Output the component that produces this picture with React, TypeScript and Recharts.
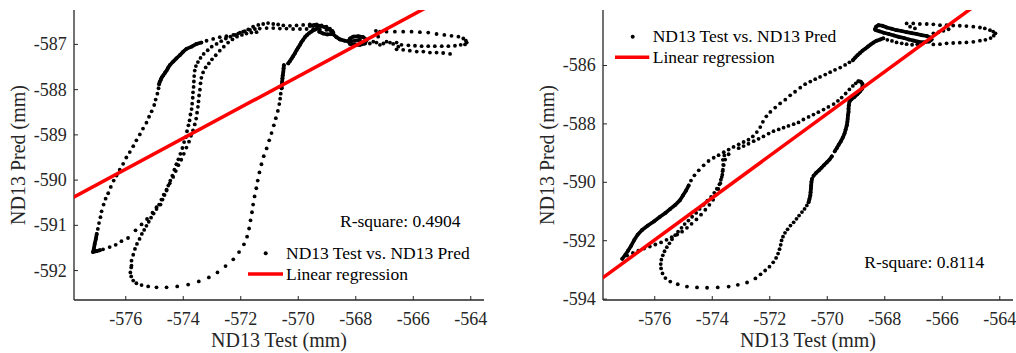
import React from 'react';
import { ScatterChart, Scatter, XAxis, YAxis } from 'recharts';

const FONT = '"Liberation Serif", "Times New Roman", Times, serif';
const AX = '#262626';

// ---------- axes ----------
const xTicks = [-576, -574, -572, -570, -568, -566, -564];
const xDomain = [-577.8, -563.54];
const leftYTicks = [-592, -591, -590, -589, -588, -587];
const leftYDomain = [-592.65, -586.24];
const rightYTicks = [-594, -592, -590, -588, -586];
const rightYDomain = [-594.03, -584.1];

// ---------- left panel: [ND13 Test, ND13 Pred] ----------
const leftTipLine = [[-577.01,-591.19],[-577.04,-591.30],[-577.08,-591.41],[-577.11,-591.52],[-577.14,-591.59],[-577.02,-591.57],[-576.90,-591.55]];
const leftOuterRise = [[-576.97,-591.08],[-576.93,-590.95],[-576.88,-590.82],[-576.84,-590.69],[-576.77,-590.54],[-576.70,-590.41],[-576.61,-590.29],[-576.52,-590.15],[-576.42,-590.01],[-576.32,-589.90],[-576.21,-589.77],[-576.09,-589.64],[-575.98,-589.50],[-575.86,-589.38],[-575.74,-589.25],[-575.63,-589.12],[-575.51,-588.99],[-575.40,-588.86],[-575.28,-588.73],[-575.19,-588.60],[-575.10,-588.48],[-575.01,-588.34],[-574.96,-588.22],[-574.90,-588.09],[-574.86,-587.97]];
const leftUpperBend = [[-574.84,-587.88],[-574.82,-587.83],[-574.78,-587.78],[-574.75,-587.73],[-574.70,-587.69],[-574.64,-587.63],[-574.58,-587.58],[-574.53,-587.52],[-574.47,-587.46],[-574.35,-587.38],[-574.24,-587.31],[-574.12,-587.24],[-574.00,-587.16],[-573.89,-587.10],[-573.71,-587.05],[-573.54,-586.99],[-573.37,-586.96]];
const leftUpperCrest = [[-573.19,-586.92],[-572.96,-586.88],[-572.73,-586.84],[-572.50,-586.82],[-572.26,-586.79],[-572.09,-586.76],[-571.92,-586.72],[-571.74,-586.67],[-571.57,-586.61],[-571.39,-586.57],[-571.22,-586.55],[-571.05,-586.53],[-570.87,-586.55],[-570.70,-586.56],[-570.52,-586.58],[-570.29,-586.59],[-570.06,-586.58],[-569.83,-586.57],[-569.60,-586.56],[-569.36,-586.56],[-569.19,-586.58],[-569.02,-586.61],[-568.90,-586.65],[-568.81,-586.70],[-568.78,-586.74]];
const leftReturnBranch = [[-576.79,-591.53],[-576.56,-591.48],[-576.35,-591.43],[-576.15,-591.35],[-575.92,-591.28],[-575.66,-591.11],[-575.45,-590.98],[-575.26,-590.86],[-575.07,-590.72],[-574.93,-590.60]];
const leftInnerRiseA = [[-574.79,-590.54],[-574.72,-590.43],[-574.65,-590.33],[-574.58,-590.23],[-574.52,-590.12],[-574.45,-590.01],[-574.38,-589.90],[-574.31,-589.77],[-574.24,-589.65],[-574.17,-589.54],[-574.10,-589.42],[-574.03,-589.29],[-573.97,-589.16],[-573.91,-589.05],[-573.87,-588.92],[-573.82,-588.79],[-573.78,-588.68],[-573.75,-588.55],[-573.71,-588.43],[-573.69,-588.31],[-573.67,-588.18],[-573.66,-588.06],[-573.64,-587.94],[-573.63,-587.82],[-573.62,-587.70],[-573.60,-587.58],[-573.56,-587.48],[-573.49,-587.39],[-573.40,-587.30],[-573.29,-587.21],[-573.15,-587.13],[-573.01,-587.05],[-572.84,-586.99],[-572.68,-586.93],[-572.52,-586.87],[-572.36,-586.83],[-572.19,-586.79],[-572.03,-586.74],[-571.86,-586.71],[-571.68,-586.68],[-571.51,-586.66],[-571.34,-586.65],[-571.10,-586.64],[-570.87,-586.64],[-570.64,-586.65],[-570.41,-586.65],[-570.18,-586.66],[-569.94,-586.66],[-569.71,-586.66],[-569.48,-586.66],[-569.25,-586.67],[-569.02,-586.68],[-568.84,-586.73]];
const leftInnerRiseB = [[-575.80,-591.89],[-575.80,-591.78],[-575.74,-591.65],[-575.68,-591.52],[-575.61,-591.41],[-575.52,-591.30],[-575.44,-591.19],[-575.36,-591.10],[-575.28,-591.01],[-575.20,-590.92],[-575.12,-590.83],[-575.03,-590.74],[-574.93,-590.64],[-574.84,-590.54],[-574.76,-590.43],[-574.68,-590.32],[-574.58,-590.21],[-574.47,-590.07],[-574.35,-589.93],[-574.26,-589.80],[-574.17,-589.67],[-574.07,-589.55],[-573.98,-589.42],[-573.89,-589.28],[-573.80,-589.15],[-573.73,-589.02],[-573.66,-588.90],[-573.60,-588.77],[-573.55,-588.64],[-573.52,-588.51],[-573.49,-588.38],[-573.47,-588.26],[-573.45,-588.13],[-573.42,-588.00],[-573.40,-587.86],[-573.37,-587.74],[-573.31,-587.62],[-573.22,-587.51],[-573.11,-587.42],[-573.00,-587.33],[-572.87,-587.24],[-572.73,-587.14],[-572.59,-587.05],[-572.44,-586.96],[-572.29,-586.89],[-572.13,-586.83],[-571.96,-586.79],[-571.80,-586.76],[-571.63,-586.74],[-571.45,-586.73]];
const leftHook = [[-575.81,-591.93],[-575.84,-592.04],[-575.81,-592.13],[-575.74,-592.22],[-575.63,-592.28],[-575.45,-592.32],[-575.22,-592.35],[-574.93,-592.37],[-574.58,-592.37],[-574.21,-592.35],[-573.83,-592.31],[-573.46,-592.24],[-573.11,-592.15],[-572.81,-592.04],[-572.53,-591.90],[-572.26,-591.75],[-572.06,-591.59],[-571.89,-591.42],[-571.78,-591.25],[-571.71,-591.07],[-571.66,-590.89],[-571.61,-590.71],[-571.57,-590.54],[-571.52,-590.36],[-571.46,-590.18],[-571.41,-590.01],[-571.35,-589.83],[-571.28,-589.65],[-571.20,-589.47],[-571.10,-589.30],[-571.01,-589.12],[-570.93,-588.96],[-570.85,-588.79],[-570.78,-588.63],[-570.71,-588.47],[-570.66,-588.32],[-570.63,-588.20],[-570.61,-588.09],[-570.58,-587.97]];
const leftHookTop = [[-570.58,-587.97],[-570.57,-587.90],[-570.56,-587.83],[-570.55,-587.75],[-570.54,-587.68],[-570.52,-587.61],[-570.51,-587.53],[-570.50,-587.46]];
const leftHookArc = [[-570.35,-587.42],[-570.29,-587.37],[-570.23,-587.31],[-570.18,-587.26],[-570.12,-587.20],[-570.06,-587.13],[-570.00,-587.07],[-569.94,-587.01],[-569.89,-586.95],[-569.83,-586.90],[-569.77,-586.84],[-569.69,-586.79],[-569.62,-586.75],[-569.55,-586.72],[-569.48,-586.69],[-569.41,-586.67],[-569.34,-586.65]];
const leftKnotA = [[-569.60,-586.59],[-569.42,-586.57],[-569.25,-586.59],[-569.07,-586.62],[-568.92,-586.67],[-568.81,-586.72],[-568.84,-586.77],[-568.99,-586.78],[-569.13,-586.76],[-569.27,-586.72]];
const leftKnotB = [[-568.81,-586.76],[-568.67,-586.84],[-568.55,-586.89],[-568.38,-586.92],[-568.20,-586.93],[-568.03,-586.92],[-567.86,-586.90]];
const leftKnotC = [[-568.26,-586.94],[-568.20,-586.87],[-568.09,-586.83],[-567.91,-586.82],[-567.74,-586.84],[-567.62,-586.90],[-567.68,-586.98],[-567.86,-587.01],[-568.03,-587.01],[-568.20,-586.99]];
const leftTail = [[-567.51,-586.98],[-567.39,-586.94],[-567.28,-586.96],[-567.16,-587.01],[-567.04,-586.98],[-566.93,-586.94],[-566.81,-586.96],[-566.70,-586.99],[-566.58,-586.96],[-566.52,-587.05],[-567.30,-586.70],[-567.25,-586.76],[-567.22,-586.83]];
const leftEllipse = [[-567.16,-586.72],[-566.93,-586.72],[-566.64,-586.72],[-566.35,-586.72],[-566.06,-586.72],[-565.77,-586.73],[-565.48,-586.74],[-565.19,-586.77],[-564.92,-586.79],[-564.67,-586.81],[-564.43,-586.83],[-564.26,-586.87],[-564.17,-586.92],[-564.14,-586.96],[-564.20,-587.00],[-564.35,-587.01],[-564.55,-587.03],[-564.78,-587.04],[-565.01,-587.04],[-565.25,-587.04],[-565.48,-587.04],[-565.71,-587.04],[-565.94,-587.03],[-566.17,-587.02],[-566.41,-587.01],[-566.58,-587.11],[-566.35,-587.12],[-566.12,-587.14],[-565.88,-587.16],[-565.65,-587.16],[-565.42,-587.18],[-565.19,-587.18],[-564.96,-587.19],[-564.72,-587.21]];
const leftFitX = [-578.0, -565.5];
const leftFitY = [-590.44, -586.17];

// ---------- right panel: [ND13 Test, ND13 Pred] ----------
const rightTipLine = [[-577.13,-592.62],[-577.03,-592.49],[-576.93,-592.34],[-576.82,-592.17],[-576.71,-591.97],[-576.59,-591.79],[-576.44,-591.63],[-576.24,-591.48],[-576.03,-591.34],[-575.83,-591.19],[-575.63,-591.05],[-575.46,-590.91],[-575.28,-590.77],[-575.13,-590.62],[-575.02,-590.45],[-574.91,-590.28],[-574.82,-590.11]];
const rightUpperStrand = [[-574.74,-589.94],[-574.62,-589.76],[-574.47,-589.59],[-574.30,-589.42],[-574.13,-589.27],[-573.95,-589.16],[-573.78,-589.07],[-573.60,-588.97],[-573.43,-588.88],[-573.26,-588.79],[-573.08,-588.70],[-572.91,-588.62],[-572.74,-588.54],[-572.59,-588.43],[-572.45,-588.28],[-572.33,-588.11],[-572.24,-587.93],[-572.12,-587.74],[-571.98,-587.59],[-571.81,-587.44],[-571.64,-587.30],[-571.46,-587.17],[-571.29,-587.02],[-571.12,-586.90],[-570.94,-586.76],[-570.77,-586.64],[-570.59,-586.55],[-570.42,-586.47],[-570.25,-586.39],[-570.07,-586.31],[-569.90,-586.23],[-569.73,-586.15],[-569.55,-586.07],[-569.38,-585.98],[-569.23,-585.89]];
const rightUpperLine = [[-569.11,-585.82],[-569.03,-585.73],[-568.95,-585.65],[-568.86,-585.57],[-568.77,-585.49],[-568.67,-585.42],[-568.58,-585.35],[-568.49,-585.28],[-568.40,-585.22],[-568.28,-585.15],[-568.16,-585.11],[-568.05,-585.07]];
const rightLowerStrand = [[-576.96,-592.51],[-576.76,-592.42],[-576.57,-592.34],[-576.37,-592.27],[-576.17,-592.20],[-575.98,-592.13],[-575.78,-592.06],[-575.59,-591.97],[-575.41,-591.88],[-575.22,-591.79],[-575.05,-591.69],[-574.88,-591.56],[-574.72,-591.42],[-574.55,-591.27],[-574.39,-591.11],[-574.24,-590.94],[-574.10,-590.77],[-573.97,-590.60],[-573.87,-590.42],[-573.79,-590.23],[-573.72,-590.03],[-573.67,-589.82],[-573.64,-589.62],[-573.60,-589.41],[-573.55,-589.22],[-573.43,-589.04]];
const rightInnerStrand = [[-573.08,-588.83],[-572.91,-588.76],[-572.74,-588.68],[-572.56,-588.59],[-572.39,-588.51],[-572.22,-588.43],[-572.04,-588.33],[-571.87,-588.25],[-571.69,-588.19],[-571.52,-588.13],[-571.35,-588.07],[-571.17,-588.01],[-571.00,-587.95],[-570.83,-587.85],[-570.65,-587.76],[-570.48,-587.68],[-570.31,-587.60],[-570.13,-587.51],[-569.96,-587.42],[-569.78,-587.32],[-569.63,-587.21],[-569.50,-587.10],[-569.36,-586.96],[-569.23,-586.82],[-569.11,-586.70],[-569.01,-586.61]];
const rightCurlLine = [[-568.92,-586.54],[-568.84,-586.55],[-568.78,-586.62],[-568.77,-586.71],[-568.79,-586.80],[-568.86,-586.89],[-568.95,-586.98],[-569.06,-587.08],[-569.16,-587.16],[-569.23,-587.25],[-569.25,-587.36],[-569.26,-587.48],[-569.26,-587.59],[-569.28,-587.70],[-569.29,-587.82],[-569.30,-587.93],[-569.32,-588.05],[-569.36,-588.19],[-569.40,-588.33],[-569.46,-588.47],[-569.53,-588.60],[-569.60,-588.71],[-569.67,-588.83],[-569.74,-588.94]];
const rightDashLine = [[-569.84,-589.11],[-569.92,-589.22],[-570.02,-589.32],[-570.11,-589.41],[-570.20,-589.50],[-570.29,-589.59],[-570.39,-589.68],[-570.48,-589.78]];
const rightColumnLine = [[-570.53,-589.88],[-570.55,-589.99],[-570.56,-590.11],[-570.57,-590.22],[-570.58,-590.34],[-570.59,-590.45],[-570.62,-590.57],[-570.65,-590.68]];
const rightHook = [[-570.71,-590.79],[-570.79,-590.91],[-570.88,-591.02],[-570.98,-591.14],[-571.07,-591.25],[-571.17,-591.37],[-571.28,-591.48],[-571.38,-591.61],[-571.47,-591.73],[-571.54,-591.86],[-571.59,-591.99],[-571.62,-592.14],[-571.66,-592.29],[-571.71,-592.44],[-571.78,-592.59],[-571.88,-592.74],[-572.01,-592.89],[-572.16,-593.02],[-572.32,-593.15],[-572.50,-593.29],[-572.79,-593.43],[-573.11,-593.51],[-573.43,-593.57],[-573.81,-593.60],[-574.18,-593.61],[-574.53,-593.60],[-574.88,-593.57],[-575.20,-593.49],[-575.46,-593.40],[-575.63,-593.28],[-575.73,-593.12],[-575.78,-592.95],[-575.79,-592.80],[-575.77,-592.65],[-575.72,-592.50],[-575.66,-592.36],[-575.58,-592.22],[-575.49,-592.09],[-575.40,-591.95],[-575.29,-591.81],[-575.19,-591.69],[-575.07,-591.56],[-574.96,-591.43],[-574.83,-591.31],[-574.70,-591.18],[-574.56,-591.05],[-574.44,-590.91],[-574.30,-590.77],[-574.17,-590.63],[-574.04,-590.50],[-573.93,-590.36],[-573.84,-590.22],[-573.75,-590.07],[-573.70,-589.91],[-573.65,-589.74],[-573.63,-589.57],[-573.62,-589.40],[-573.63,-589.23],[-573.58,-589.08]];
const rightKnotLine = [[-568.34,-584.76],[-568.30,-584.67],[-568.22,-584.62],[-568.08,-584.64],[-567.93,-584.70],[-567.76,-584.74],[-567.59,-584.79],[-567.41,-584.82],[-567.24,-584.86],[-567.06,-584.89],[-566.89,-584.92],[-566.72,-584.96],[-566.54,-584.99],[-566.43,-585.04],[-566.37,-585.11],[-566.46,-585.18],[-566.64,-585.21],[-566.81,-585.19],[-566.99,-585.15],[-567.16,-585.11],[-567.33,-585.06],[-567.51,-585.02],[-567.68,-584.97],[-567.86,-584.92],[-568.03,-584.88],[-568.19,-584.83],[-568.31,-584.79]];
const rightKnotDots = [[-567.91,-585.12],[-567.75,-585.16],[-567.59,-585.21],[-567.41,-585.24],[-567.24,-585.27],[-567.05,-585.29],[-566.87,-585.27],[-566.68,-585.23],[-567.24,-584.56],[-567.01,-584.56],[-566.78,-584.58],[-566.54,-584.58],[-566.31,-584.59],[-566.08,-584.62],[-565.85,-584.62],[-565.62,-584.63],[-565.39,-584.64],[-565.16,-584.65],[-564.92,-584.67],[-564.69,-584.70],[-564.52,-584.73],[-564.34,-584.79],[-564.23,-584.84],[-564.15,-584.90],[-564.21,-584.98],[-564.32,-585.06],[-564.50,-585.12],[-564.69,-585.15],[-564.92,-585.19],[-565.16,-585.21],[-565.39,-585.22],[-565.62,-585.23],[-565.85,-585.24],[-566.08,-585.27],[-566.31,-585.28],[-566.31,-584.90],[-566.13,-584.86],[-565.96,-584.81],[-565.78,-584.76],[-567.12,-584.67],[-566.95,-584.73]];
const rightFitX = [-578.0, -564.9];
const rightFitY = [-593.41, -583.98];

// ---------- text ----------
const xLabel = 'ND13 Test (mm)';
const yLabel = 'ND13 Pred (mm)';
const legendPoints = 'ND13 Test vs. ND13 Pred';
const legendFit = 'Linear regression';
const leftR2 = 'R-square: 0.4904';
const rightR2 = 'R-square: 0.8114';

const toPts = (a: number[][]) => a.map(([x, y]) => ({ x, y }));
const zipPts = (xs: number[], ys: number[]) => xs.map((x, i) => ({ x, y: ys[i] }));

const Dot = (p: any) => <circle cx={p.cx} cy={p.cy} r={1.9} fill="#000" />;
const NoDot = () => <g />;

const BottomTick = (p: any) => (
  <g>
    <line x1={p.x} x2={p.x} y1={p.y} y2={p.y - 4} stroke={AX} strokeWidth={1} />
    <text x={p.x} y={p.y + 25} textAnchor="middle" fontSize={18} fontFamily={FONT} fill={AX}>{String(p.payload.value)}</text>
  </g>
);
const TopTick = (p: any) => (
  <line x1={p.x} x2={p.x} y1={p.y} y2={p.y + 4} stroke={AX} strokeWidth={1} />
);
const LeftTick = (p: any) => (
  <g>
    <line x1={p.x} x2={p.x + 4} y1={p.y} y2={p.y} stroke={AX} strokeWidth={1} />
    <text x={p.x - 7.3} y={p.y + 6} textAnchor="end" fontSize={18} fontFamily={FONT} fill={AX}>{String(p.payload.value)}</text>
  </g>
);
const RightTick = (p: any) => (
  <line x1={p.x} x2={p.x - 4} y1={p.y} y2={p.y} stroke={AX} strokeWidth={1} />
);

const dense = { stroke: '#000', strokeWidth: 3.7, strokeLinecap: 'round', strokeLinejoin: 'round' } as any;
const fitLine = { stroke: '#ff0000', strokeWidth: 3.5 } as any;

function Panel(props: {
  left: number; width: number; marginRight: number;
  yDomain: number[]; yTicks: number[];
  dots: number[][][]; lines: number[][][]; fit: { x: number; y: number }[];
}) {
  const { left, width, marginRight, yDomain, yTicks, dots, lines, fit } = props;
  const axisLine = { stroke: AX, strokeWidth: 1.3 };
  return (
    <div style={{ position: 'absolute', left, top: 0 }}>
      <ScatterChart width={width} height={353} margin={{ top: 10, right: marginRight, bottom: 0, left: 0 }}>
        <XAxis xAxisId="b" type="number" dataKey="x" domain={xDomain} ticks={xTicks} interval={0} allowDataOverflow
          orientation="bottom" height={53} tickSize={0} tickMargin={0} tickLine={false} tick={BottomTick} axisLine={axisLine} />
        <XAxis xAxisId="t" type="number" dataKey="x" domain={xDomain} ticks={xTicks} interval={0} allowDataOverflow
          orientation="top" height={0} tickSize={0} tickMargin={0} tickLine={false} tick={TopTick} axisLine={axisLine} />
        <YAxis yAxisId="l" type="number" dataKey="y" domain={yDomain} ticks={yTicks} interval={0} allowDataOverflow
          orientation="left" width={74} tickSize={0} tickMargin={0} tickLine={false} tick={LeftTick} axisLine={axisLine} />
        <YAxis yAxisId="r" type="number" dataKey="y" domain={yDomain} ticks={yTicks} interval={0} allowDataOverflow
          orientation="right" width={0} tickSize={0} tickMargin={0} tickLine={false} tick={RightTick} axisLine={axisLine} />
        {dots.map((d, i) => (
          <Scatter key={'d' + i} xAxisId="b" yAxisId="l" data={toPts(d)} fill="#000" shape={Dot} isAnimationActive={false} />
        ))}
        {lines.map((d, i) => (
          <Scatter key={'l' + i} xAxisId="b" yAxisId="l" data={toPts(d)} fill="#000" shape={Dot} line={dense} lineType="joint" isAnimationActive={false} />
        ))}
        <Scatter xAxisId="b" yAxisId="l" data={fit} fill="#ff0000" shape={NoDot} line={fitLine} lineType="joint" isAnimationActive={false} />
      </ScatterChart>
    </div>
  );
}

export default function App() {
  const t = { fontFamily: FONT };
  return (
    <div style={{ position: 'absolute', left: 0, top: 0, width: 1016, height: 353, overflow: 'hidden', background: '#fff' }}>
      <Panel left={0} width={500} marginRight={16} yDomain={leftYDomain} yTicks={leftYTicks}
        dots={[leftOuterRise, leftUpperCrest, leftReturnBranch, leftInnerRiseA, leftInnerRiseB, leftHook, leftTail, leftEllipse]}
        lines={[leftTipLine, leftUpperBend, leftHookTop, leftHookArc, leftKnotA, leftKnotB, leftKnotC]}
        fit={zipPts(leftFitX, leftFitY)} />
      <Panel left={529} width={487} marginRight={3} yDomain={rightYDomain} yTicks={rightYTicks}
        dots={[rightUpperStrand, rightLowerStrand, rightInnerStrand, rightHook, rightKnotDots]}
        lines={[rightTipLine, rightUpperLine, rightCurlLine, rightDashLine, rightColumnLine, rightKnotLine]}
        fit={zipPts(rightFitX, rightFitY)} />
      <svg width={1016} height={353} style={{ position: 'absolute', left: 0, top: 0, pointerEvents: 'none' }}>
        {/* left panel texts */}
        <text x={279} y={347} textAnchor="middle" fontSize={20} fill={AX} {...t}>{xLabel}</text>
        <text x={25} y={155} textAnchor="middle" fontSize={20} fill={AX} transform="rotate(-90 25 155)" {...t}>{yLabel}</text>
        <text x={340} y={226.5} fontSize={17.5} fill="#000" {...t}>{leftR2}</text>
        <circle cx={265.7} cy={253.3} r={2} fill="#000" />
        <text x={286} y={258.5} fontSize={17.5} fill="#000" {...t}>{legendPoints}</text>
        <line x1={248} x2={283} y1={274} y2={274} stroke="#ff0000" strokeWidth={3.5} />
        <text x={286} y={279.5} fontSize={17.5} fill="#000" {...t}>{legendFit}</text>
        {/* right panel texts */}
        <text x={808} y={347} textAnchor="middle" fontSize={20} fill={AX} {...t}>{xLabel}</text>
        <text x={554} y={155} textAnchor="middle" fontSize={20} fill={AX} transform="rotate(-90 554 155)" {...t}>{yLabel}</text>
        <text x={864.3} y={268.3} fontSize={17.5} fill="#000" {...t}>{rightR2}</text>
        <circle cx={632.7} cy={36.7} r={2} fill="#000" />
        <text x={652.7} y={42} fontSize={17.5} fill="#000" {...t}>{legendPoints}</text>
        <line x1={615} x2={649.3} y1={57.3} y2={57.3} stroke="#ff0000" strokeWidth={3.5} />
        <text x={652.7} y={63.3} fontSize={17.5} fill="#000" {...t}>{legendFit}</text>
      </svg>
    </div>
  );
}
